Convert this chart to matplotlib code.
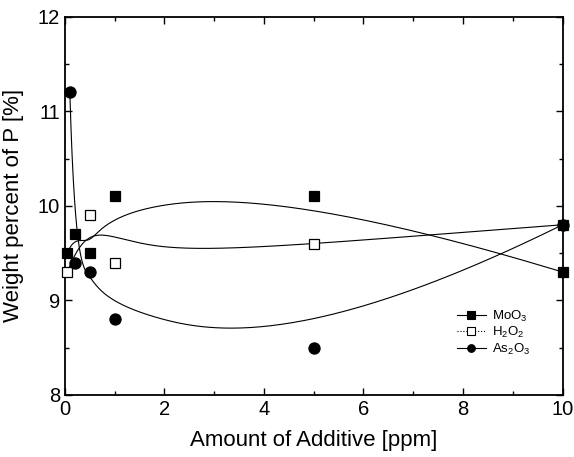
import matplotlib.pyplot as plt
import numpy as np
from matplotlib.ticker import MultipleLocator

plt.rcParams['font.family'] = ['Liberation Sans', 'DejaVu Sans']
plt.rcParams['mathtext.fontset'] = 'custom'
plt.rcParams['mathtext.rm'] = 'Liberation Sans'

# Data
x_moo3 = [0.05, 0.2, 0.5, 1, 5, 10]
y_moo3 = [9.5, 9.7, 9.5, 10.1, 10.1, 9.3]
x_h2o2 = [0.05, 0.5, 1, 5, 10]
y_h2o2 = [9.3, 9.9, 9.4, 9.6, 9.8]
x_as2o3 = [0.1, 0.2, 0.5, 1, 5, 10]
y_as2o3 = [11.2, 9.4, 9.3, 8.8, 8.5, 9.8]


def bspline(x, y, k=3, num=400):
    # clamped B-spline that uses the data points as control points
    P = np.column_stack([x, y]).astype(float)
    n = len(P)
    k = min(k, n - 1)
    knots = np.concatenate([np.zeros(k), np.linspace(0, 1, n - k + 1), np.ones(k)])
    ts = np.linspace(0, 1, num)
    out = []
    for t in ts:
        if t >= 1:
            out.append(P[-1])
            continue
        j = np.searchsorted(knots, t, side='right') - 1
        d = [P[i].copy() for i in range(j - k, j + 1)]
        for r in range(1, k + 1):
            for i in range(k, r - 1, -1):
                idx = i + j - k
                a = (t - knots[idx]) / (knots[idx + k + 1 - r] - knots[idx])
                d[i] = (1 - a) * d[i - 1] + a * d[i]
        out.append(d[k])
    out = np.array(out)
    return out[:, 0], out[:, 1]


fig = plt.figure(figsize=(5.74, 4.57), dpi=100)
ax = fig.add_axes([0.113, 0.136, 0.867, 0.827])

series = [
    (x_moo3, y_moo3, 's', 'k', 'MoO$_3$', '-'),
    (x_h2o2, y_h2o2, 's', 'white', 'H$_2$O$_2$', ':'),
    (x_as2o3, y_as2o3, 'o', 'k', 'As$_2$O$_3$', '-'),
]
handles = []
for xs, ys, m, fc, lab, ls in series:
    cx, cy = bspline(xs, ys)
    ax.plot(cx, cy, color='k', lw=0.8)
    ax.plot(xs, ys, linestyle='none', marker=m, ms=7 if m == 's' else 8,
            mfc=fc, mec='k', mew=0.9, clip_on=False, zorder=3)
    h, = ax.plot([], [], color='k', lw=0.8, ls=ls, marker=m, ms=5.5,
                 mfc=fc, mec='k', mew=0.8)
    handles.append(h)

ax.legend(handles, [s[4] for s in series], loc='lower right',
          bbox_to_anchor=(0.96, 0.07), frameon=False, fontsize=9.5,
          handlelength=2.2, handletextpad=0.5, labelspacing=0.1)

ax.set_xlim(0, 10)
ax.set_ylim(8, 12)
ax.xaxis.set_major_locator(MultipleLocator(2))
ax.xaxis.set_minor_locator(MultipleLocator(1))
ax.yaxis.set_major_locator(MultipleLocator(1))
ax.yaxis.set_minor_locator(MultipleLocator(0.5))
ax.tick_params(which='both', direction='in', top=True, right=True,
               labelsize=14.5, width=1)
ax.tick_params(which='major', length=5)
ax.tick_params(which='minor', length=3)
for sp in ax.spines.values():
    sp.set_linewidth(1.3)

ax.set_xlabel('Amount of Additive [ppm]', fontsize=16, labelpad=8)
ax.set_ylabel('Weight percent of P [%]', fontsize=16, labelpad=10)

fig.savefig('out.png', dpi=100)
